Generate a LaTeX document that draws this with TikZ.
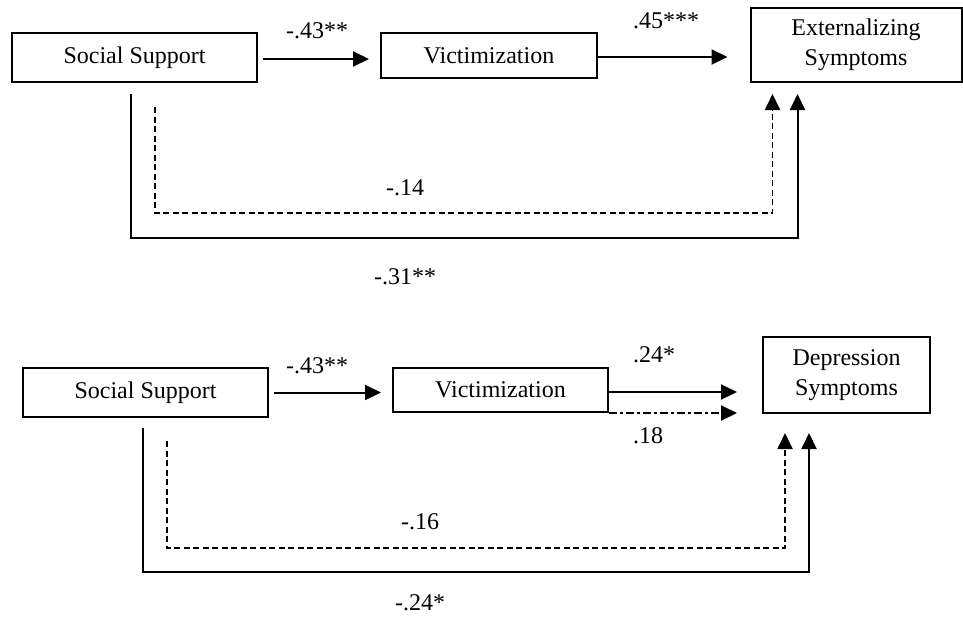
\documentclass[tikz,border=0pt]{standalone}
\usepackage{fontspec}
\setmainfont{Liberation Serif}
\usetikzlibrary{arrows.meta}
\begin{document}
\begin{tikzpicture}[x=0.5pt,y=-0.5pt,
  every node/.style={font=\fontsize{12}{15}\selectfont, inner sep=0pt},
  box/.style={draw, line width=1pt, align=center},
  lbl/.style={anchor=base},
  arr/.style={line width=1pt, -{Triangle[length=8pt,width=7.5pt]}},
  darr/.style={line width=0.9pt, dash pattern=on 3pt off 1.75pt, -{Triangle[length=8pt,width=7.5pt]}},
  ddarr/.style={line width=1pt, dash pattern=on 4pt off 1.5pt on 1.5pt off 1.5pt, -{Triangle[length=8pt,width=7.5pt]}}]
\useasboundingbox (0,0) rectangle (963,616);
% ---------- top model ----------
\node[box, minimum width=122.5pt, minimum height=24.5pt] (ss1) at (134.5,57.5) {Social Support};
\node[box, minimum width=108pt, minimum height=22.5pt] (vic1) at (489,55.5) {Victimization};
\node[box, minimum width=105.5pt, minimum height=37pt] (ext1) at (856,45) {Externalizing\\Symptoms};
\draw[arr, shorten <=2.5pt, shorten >=5.5pt] ([yshift=-0.75pt]ss1.east) -- ([yshift=-0.75pt]vic1.west |- ss1.east);
\draw[arr, shorten >=11pt] ([yshift=-0.75pt]vic1.east) -- ([yshift=-0.75pt]ext1.west |- vic1.east);
\node[lbl] (l1) at (317,38) {-.43**};
\node[lbl] (l2) at (666,28) {.45***};
\draw[arr, shorten >=5.5pt] ([shift={(-3.5,11)}]ss1.south) -- ++(0,144) -| ([xshift=24pt]ext1.south west);
\draw[darr, shorten >=5.5pt] ([shift={(20.5,24)}]ss1.south) -- ++(0,106) -| ([xshift=11.5pt]ext1.south west);
\node (l3) at (405,188) {-.14};
\node (l4) at (405,277) {-.31**};
% ---------- bottom model ----------
\node[box, minimum width=122.5pt, minimum height=24.5pt] (ss2) at (145.5,392.5) {Social Support};
\node[box, minimum width=107.5pt, minimum height=22pt] (vic2) at (500.5,390) {Victimization};
\node[box, minimum width=83.5pt, minimum height=38pt] (dep2) at (846.5,375) {Depression\\Symptoms};
\draw[arr, shorten <=2.5pt, shorten >=5.5pt] (ss2.east) -- (vic2.west |- ss2.east);
\draw[arr, shorten >=12.5pt] ([yshift=-1pt]vic2.east) -- ([yshift=-1pt]dep2.west |- vic2.east);
\draw[ddarr, shorten >=12.5pt] (vic2.south east) -- (dep2.west |- vic2.south east);
\node[lbl] (l5) at (317,373) {-.43**};
\node[lbl] (l6) at (654,362) {.24*};
\node[lbl] (l7) at (648,443) {.18};
\draw[arr, shorten >=9.5pt] ([shift={(-2.5,10)}]ss2.south) -- ++(0,144) -| ([xshift=23.5pt]dep2.south west);
\draw[darr, shorten >=9.5pt] ([shift={(21.5,23)}]ss2.south) -- ++(0,107) -| ([xshift=11.5pt]dep2.south west);
\node (l8) at (420,522) {-.16};
\node (l9) at (420,603) {-.24*};
\end{tikzpicture}
\end{document}
